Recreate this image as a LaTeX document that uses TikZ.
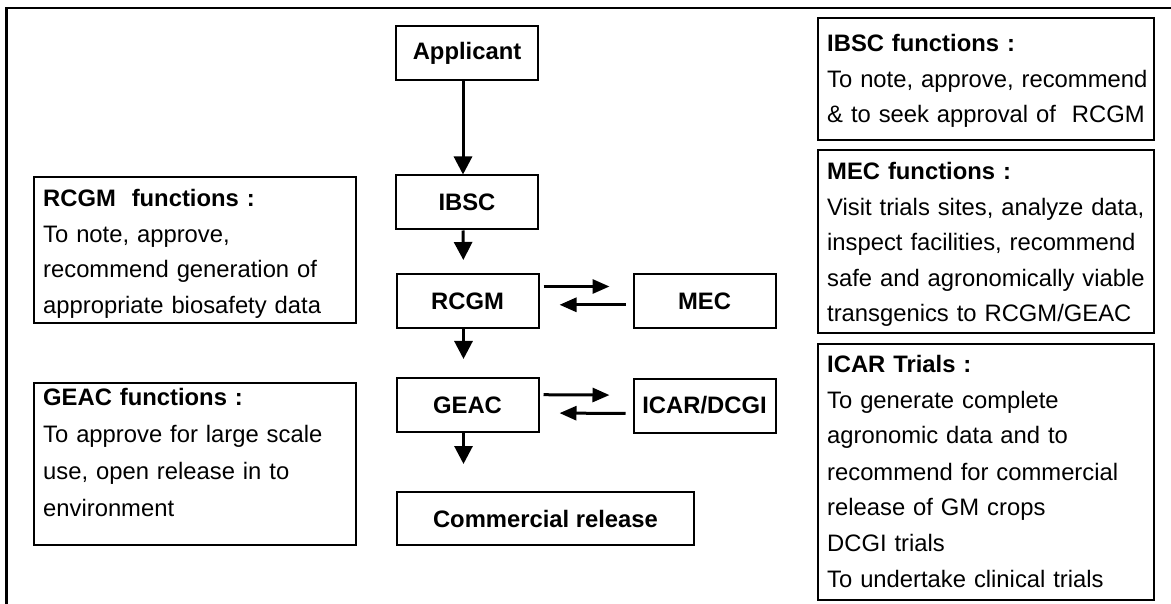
\documentclass[tikz,border=0pt]{standalone}
\usepackage{fontspec}
\setmainfont{Liberation Sans}
\usetikzlibrary{arrows.meta, calc}

\begin{document}
\begin{tikzpicture}[x=1pt, y=-1pt, >={Triangle[length=17pt, width=14pt]},
    box/.style={draw, line width=2pt, minimum width=142pt, minimum height=54pt, inner sep=0pt,
      font=\bfseries\fontsize{23.8}{28}\selectfont},
    fnbox/.style={draw, line width=2pt, anchor=north west, inner sep=0pt},
    fntext/.style={anchor=base west, inner sep=0pt, text width=330pt, align=left,
      font=\fontsize{23.8}{#1}\selectfont},
    fntext/.default=35.5,
    arr/.style={->, line width=3pt},
    downarr/.style={-{Triangle[length=18pt, width=18pt]}, line width=3pt}]
  \useasboundingbox (0,0) rectangle (1171,604);
  % outer frame
  \draw[line width=2.5pt] (6.5,604) -- (6.5,8) -- (1171,8);

  % approval chain
  \node[box] (app)  at (467,53)    {Applicant};
  \node[box] (ibsc) at (467,202.5) {IBSC};
  \node[box] (rcgm) at (467.5,301) {RCGM};
  \node[box] (mec)  at (704.5,301) {MEC};
  \node[box] (geac) at (467.5,405) {GEAC};
  \node[box] (icar) at (704.5,405.5) {ICAR/DCGI};
  \node[box, minimum width=297pt, minimum height=53pt] (comm) at (545.5,518.5) {Commercial release};

  \draw[downarr] ([xshift=-4pt]app.south) -- ([xshift=-4pt]ibsc.north);
  \draw[downarr, shorten >=13pt] ([xshift=-4pt]ibsc.south) -- ([xshift=-4pt]rcgm.north);
  \draw[downarr, shorten >=18pt] ([xshift=-4pt]rcgm.south) -- ([xshift=-4pt]geac.north);
  \draw[downarr, shorten >=27pt] ([xshift=-4pt]geac.south) -- ([xshift=-4pt]geac.south |- comm.north);

  \draw[arr, shorten <=4pt, shorten >=23pt] ([yshift=14.5pt]rcgm.east) -- ([yshift=14.5pt]mec.west);
  \draw[arr, shorten <=7pt, shorten >=20pt] ([yshift=-3.8pt]mec.west) -- ([yshift=-3.8pt]rcgm.east);
  \draw[arr, shorten <=4pt, shorten >=23pt] ([yshift=10.3pt]geac.east) -- ([yshift=10.3pt]icar.west);
  \draw[arr, shorten <=7pt, shorten >=20pt] ([yshift=-8pt]icar.west) -- ([yshift=-8pt]geac.east);

  % function boxes, left
  \node[fnbox, minimum width=322pt, minimum height=146pt] (rcgmfn) at (33,176) {};
  \node[fntext] (rcgmtxt) at (43,207) {\textbf{RCGM~ functions :}\\To note, approve,\\recommend generation of\\appropriate biosafety data};
  \node[fnbox, minimum width=322pt, minimum height=162pt] (geacfn) at (33,382) {};
  \node[fntext=37.3] (geactxt) at (43,405) {\textbf{GEAC functions :}\\To approve for large scale\\use, open release in to\\environment};

  % function boxes, right
  \node[fnbox, minimum width=336pt, minimum height=122pt] (ibscfn) at (817,17) {};
  \node[fntext] (ibsctxt) at (827,52) {\textbf{IBSC functions :}\\To note, approve, recommend\\\& to seek approval of~ RCGM};
  \node[fnbox, minimum width=336pt, minimum height=183pt] (mecfn) at (817,149) {};
  \node[fntext] (mectxt) at (827,180) {\textbf{MEC functions :}\\Visit trials sites, analyze data,\\inspect facilities, recommend\\safe and agronomically viable\\transgenics to RCGM/GEAC};
  \node[fnbox, minimum width=336pt, minimum height=256pt] (icarfn) at (817,343) {};
  \node[fntext=36] (icartxt) at (827,372) {\textbf{ICAR Trials :}\\To generate complete\\agronomic data and to\\recommend for commercial\\release of GM crops\\DCGI trials\\To undertake clinical trials};
\end{tikzpicture}
\end{document}
